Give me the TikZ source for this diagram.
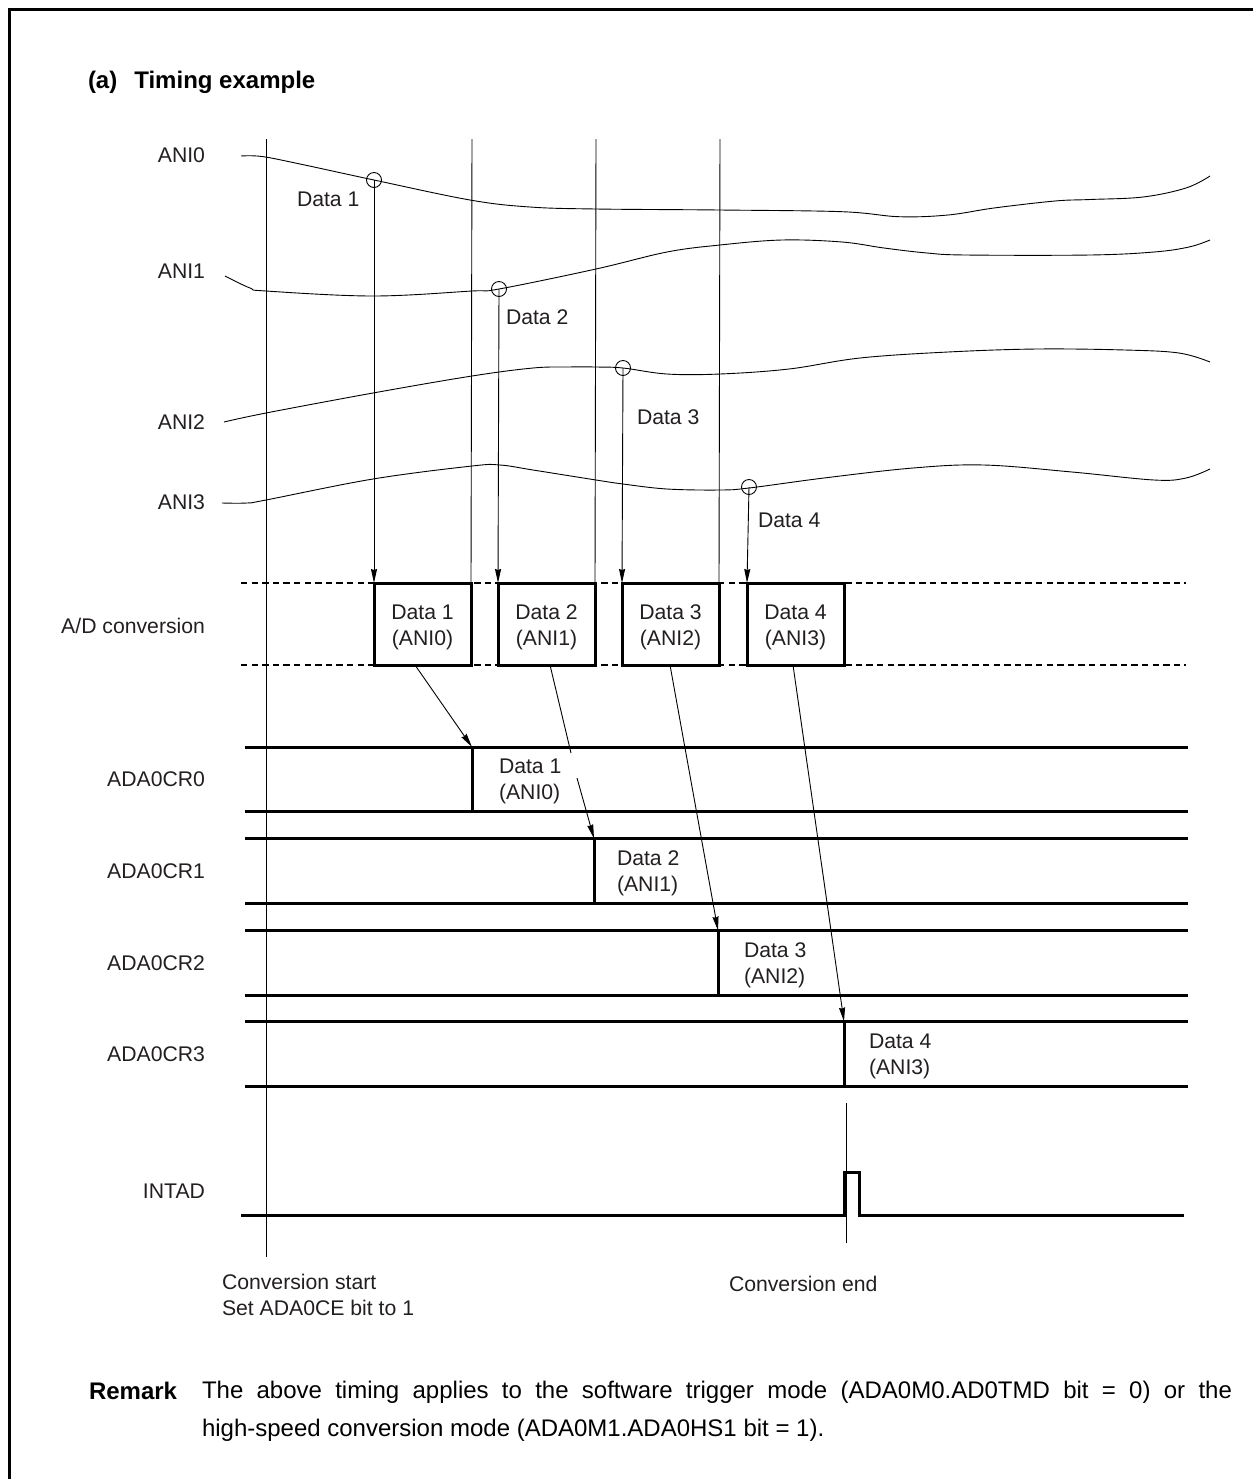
\documentclass[tikz,border=0pt]{standalone}
\usepackage{fontspec}
\setmainfont{Liberation Sans}
\usetikzlibrary{arrows.meta}
\definecolor{ink}{HTML}{231F20}
\tikzset{
  x=0.5pt,y=-0.5pt,
  every node/.style={font=\fontsize{10.6}{13}\selectfont,text=ink,inner sep=0pt,outer sep=0pt},
  thinline/.style={line width=0.45pt,black},
  wave/.style={line width=0.45pt,black,smooth,tension=0.6},
  arrowline/.style={line width=0.45pt,black,-{Stealth[length=7pt,width=3pt,inset=0.5pt]}},
  heavy/.style={line width=1.5pt,black},
  dashline/.style={line width=1.4pt,black,dash pattern=on 3.2pt off 2.1pt},
  sigpalabel/.style={anchor=east},
  leftlabel/.style={anchor=west,align=left},
  convbox/.style={draw=black,line width=1.5pt,fill=white,anchor=north west,minimum width=48.5pt,minimum height=41pt,align=center},
  sample/.style={circle,draw=black,line width=0.45pt,minimum size=7.5pt},
  bigbold/.style={anchor=west,text=black,font=\fontsize{12}{14}\selectfont\bfseries},
}
\begin{document}
\begin{tikzpicture}
\useasboundingbox (0,0) rectangle (1253,1479);
% frame
\coordinate (fbl) at (9.7,1479); \coordinate (ftl) at (9.7,9.3); \coordinate (ftr) at (1253,9.3);
\draw[line width=1.5pt,black] (fbl) -- (ftl) -- (ftr);

\node[bigbold] (title) at (88,82.5) {(a)\hspace{8.5pt}Timing example};

% signal labels
\node[sigpalabel] (lani0) at (205,155) {ANI0};
\node[sigpalabel] (lani1) at (205,271) {ANI1};
\node[sigpalabel] (lani2) at (205,422) {ANI2};
\node[sigpalabel] (lani3) at (205,502) {ANI3};
\node[sigpalabel] (lad) at (205,626) {A/D conversion};
\node[sigpalabel] (lcr0) at (205,779) {ADA0CR0};
\node[sigpalabel] (lcr1) at (205,871) {ADA0CR1};
\node[sigpalabel] (lcr2) at (205,963) {ADA0CR2};
\node[sigpalabel] (lcr3) at (205,1054) {ADA0CR3};
\node[sigpalabel] (lint) at (205,1191) {INTAD};

% dashed rails
\coordinate (da1) at (241,583); \coordinate (da2) at (1186,583);
\coordinate (db1) at (241,665); \coordinate (db2) at (1186,665);
\draw[dashline] (da1) -- (da2);
\draw[dashline] (db1) -- (db2);

% waves
\draw[wave] plot coordinates {(241,156)(262,156.5)(300,164)(374,180)(470,200)(530,207)(596,209)(720,210)(842,211.7)(899,216.7)(948,215)(994,208)(1055,201)(1090,199.5)(1143,197)(1186,188)(1210,176)};
\draw[wave] plot coordinates {(225,276)(250,288)(266,291)(373,296)(472,291)(499,289)(596,269)(667,252)(720,245)(782,240)(842,242)(884,248)(927,253)(966,255)(1090,255)(1154,252)(1189,247)(1210,240)};
\draw[wave] plot coordinates {(224,422)(266,413)(373,393)(472,376)(533,368)(567,367)(596,367)(623,368)(667,374)(720,374)(789,369)(860,358)(948,352)(1037,349)(1125,350)(1179,353)(1210,362)};
\draw[wave] plot coordinates {(222,503)(247,503)(266,500)(373,479)(472,466)(500,465)(533,470)(596,480)(623,484)(667,489)(720,490)(749,488)(824,478)(913,468)(984,465)(1072,472)(1154,480)(1186,478)(1210,469)};

% conversion boxes
\node[convbox] (b1) at (374,583) {\rule{0pt}{10.2pt}Data 1\\(ANI0)};
\node[convbox] (b2) at (498,583) {\rule{0pt}{10.2pt}Data 2\\(ANI1)};
\node[convbox] (b3) at (622,583) {\rule{0pt}{10.2pt}Data 3\\(ANI2)};
\node[convbox] (b4) at (747,583) {\rule{0pt}{10.2pt}Data 4\\(ANI3)};

% vertical markers
\coordinate (vs0) at (266,139); \coordinate (vs0e) at (266,1257);
\coordinate (vs1) at (472,139);
\coordinate (vs2) at (596,139);
\coordinate (vs3) at (720,139);
\draw[thinline] (vs0) -- (vs0e);
\draw[thinline] (vs1) -- (b1.north east);
\draw[thinline] (vs2) -- (b2.north east);
\draw[thinline] (vs3) -- (b3.north east);

% sampling points
\node[sample] (s1) at (374,180) {};
\node[sample] (s2) at (499,289) {};
\node[sample] (s3) at (623,368) {};
\node[sample] (s4) at (749,487) {};
\draw[arrowline] (s1.center) -- (b1.north west);
\draw[arrowline] (s2.center) -- (b2.north west);
\draw[arrowline] (s3.center) -- (b3.north west);
\draw[arrowline] (s4.center) -- (b4.north west);

\node[anchor=west] (d1) at (297,199) {Data 1};
\node[anchor=west] (d2) at (506,317) {Data 2};
\node[anchor=west] (d3) at (637,417) {Data 3};
\node[anchor=west] (d4) at (758,520) {Data 4};

% registers
\coordinate (r0a) at (245,747); \coordinate (r0b) at (1188,747);
\coordinate (r0c) at (245,811.5); \coordinate (r0d) at (1188,811.5);
\coordinate (r1a) at (245,838.5); \coordinate (r1b) at (1188,838.5);
\coordinate (r1c) at (245,903); \coordinate (r1d) at (1188,903);
\coordinate (r2a) at (245,930.5); \coordinate (r2b) at (1188,930.5);
\coordinate (r2c) at (245,995); \coordinate (r2d) at (1188,995);
\coordinate (r3a) at (245,1021.5); \coordinate (r3b) at (1188,1021.5);
\coordinate (r3c) at (245,1086); \coordinate (r3d) at (1188,1086);
\draw[heavy] (r0a) -- (r0b); \draw[heavy] (r0c) -- (r0d);
\draw[heavy] (r1a) -- (r1b); \draw[heavy] (r1c) -- (r1d);
\draw[heavy] (r2a) -- (r2b); \draw[heavy] (r2c) -- (r2d);
\draw[heavy] (r3a) -- (r3b); \draw[heavy] (r3c) -- (r3d);
\coordinate (t0a) at (472,747); \coordinate (t0b) at (472,811.5);
\coordinate (t1a) at (594,838.5); \coordinate (t1b) at (594,903);
\coordinate (t2a) at (718,930.5); \coordinate (t2b) at (718,995);
\coordinate (t3a) at (844,1021.5); \coordinate (t3b) at (844,1086);
\draw[heavy] (t0a) -- (t0b);
\draw[heavy] (t1a) -- (t1b);
\draw[heavy] (t2a) -- (t2b);
\draw[heavy] (t3a) -- (t3b);

\node[leftlabel] (rd1) at (499,781) {Data 1\\(ANI0)};
\node[leftlabel] (rd2) at (617,873) {Data 2\\(ANI1)};
\node[leftlabel] (rd3) at (744,965) {Data 3\\(ANI2)};
\node[leftlabel] (rd4) at (869,1056) {Data 4\\(ANI3)};

% transfer arrows
\coordinate (a1s) at (415,665);
\draw[arrowline] (a1s) -- (t0a);
\coordinate (a2s) at (550,665); \coordinate (a2g1) at (571,753); \coordinate (a2g2) at (577,778);
\draw[thinline] (a2s) -- (a2g1);
\draw[arrowline] (a2g2) -- (t1a);
\coordinate (a3s) at (670,665);
\draw[arrowline] (a3s) -- (t2a);
\coordinate (a4s) at (793,665);
\draw[arrowline] (a4s) -- (t3a);

% INTAD
\coordinate (i0) at (241,1215); \coordinate (i1) at (844,1215); \coordinate (i2) at (844,1172);
\coordinate (i3) at (859,1172); \coordinate (i4) at (859,1215); \coordinate (i5) at (1184,1215);
\draw[heavy] (i0) -- (i1) -- (i2) -- (i3) -- (i4) -- (i5);
\coordinate (ve1) at (846,1103); \coordinate (ve2) at (846,1243);
\draw[thinline] (ve1) -- (ve2);

\node[anchor=west,align=left] (cs) at (222,1295) {Conversion start\\Set ADA0CE bit to 1};
\node[anchor=west] (ce) at (729,1284) {Conversion end};

\node[bigbold] (rm) at (89,1391) {Remark};
\node[anchor=north west,text width=515pt,align=justify,font=\fontsize{12}{19}\selectfont,text=black] (rt) at (202,1381) {The above timing applies to the software trigger mode (ADA0M0.AD0TMD bit = 0) or the\linebreak high-speed conversion mode (ADA0M1.ADA0HS1 bit = 1).};
\end{tikzpicture}
\end{document}
